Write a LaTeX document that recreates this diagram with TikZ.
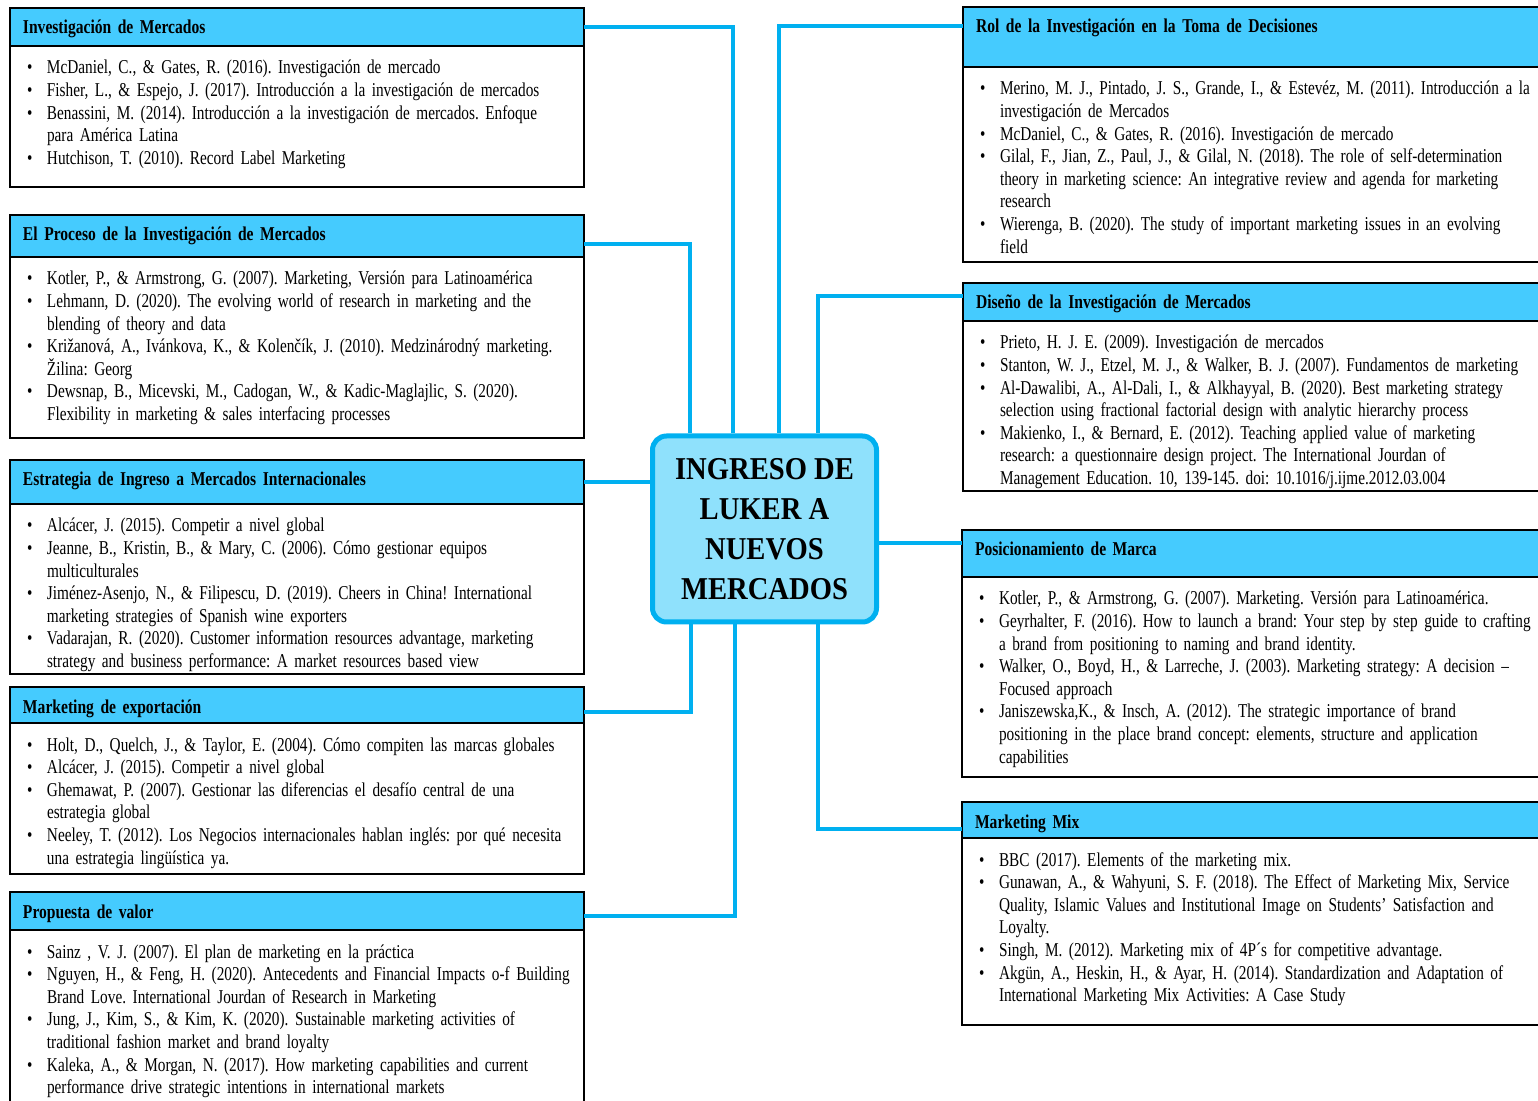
\documentclass[tikz,border=0pt]{standalone}
\usepackage{fontspec}
\setmainfont{Liberation Serif}[FakeStretch=0.78,BoldFeatures={FakeStretch=0.795}]
\newfontfamily\corefont{Liberation Serif}[FakeStretch=0.9]
\usetikzlibrary{positioning,calc}
\frenchspacing

\definecolor{linkblue}{HTML}{00B0F0}
\definecolor{hdrblue}{HTML}{45CBFE}
\definecolor{coreblue}{HTML}{8FE1FC}

\newcommand{\refitem}[1]{\begingroup\let\\\newline
  \noindent\hangindent=10pt\hangafter=1\makebox[10pt][l]{\textbullet}#1\par\endgroup}

\begin{document}
\begin{tikzpicture}[x=0.5pt,y=-0.5pt,
  hdr/.style={draw,line width=1pt,fill=hdrblue,anchor=north west,outer sep=0pt,inner xsep=6.5pt,inner ysep=0pt,
    text width=274pt,text height=13pt,text depth=#1,font=\fontsize{9.8}{11.3}\selectfont\bfseries},
  refs/.style={draw,line width=1pt,outer sep=0pt,inner xsep=8.5pt,inner ysep=0pt,
    text width=270pt,text height=14pt,text depth=#1,font=\fontsize{9.8}{11.3}\selectfont,
    execute at begin node={\rightskip=-12pt plus 1fil\relax}},
  rhdr/.style={hdr=#1,text width=279pt},
  rrefs/.style={refs=#1,text width=275pt},
  link/.style={draw=linkblue,line width=2pt}]
\useasboundingbox (0,0) rectangle (1538,1101);
\clip (0,0) rectangle (1538,1101);

\node[draw=linkblue,line width=2.5pt,fill=coreblue,rounded corners=7pt,minimum width=112pt,minimum height=93pt,
  align=center,font=\corefont\fontsize{15.9}{20}\selectfont\bfseries] (core) at (764.5,529)
  {INGRESO DE\\LUKER A\\NUEVOS\\MERCADOS};

% left column
\node[hdr=6pt] (h1) at (10,8) {Investigación de Mercados};
\node[refs=56.5pt,below=0pt of h1] (b1) {%
  \refitem{McDaniel, C., \& Gates, R. (2016). Investigación de mercado}
  \refitem{Fisher, L., \& Espejo, J. (2017). Introducción a la investigación de mercados}
  \refitem{Benassini, M. (2014). Introducción a la investigación de mercados. Enfoque\\para América Latina}
  \refitem{Hutchison, T. (2010). Record Label Marketing}};

\node[hdr=8pt] (h2) at (10,215) {El Proceso de la Investigación de Mercados};
\node[refs=76.5pt,below=0pt of h2] (b2) {%
  \refitem{Kotler, P., \& Armstrong, G. (2007). Marketing, Versión para Latinoamérica}
  \refitem{Lehmann, D. (2020). The evolving world of research in marketing and the\\blending of theory and data}
  \refitem{Križanová, A., Ivánkova, K., \& Kolenčík, J. (2010). Medzinárodný marketing.\\Žilina: Georg}
  \refitem{Dewsnap, B., Micevski, M., Cadogan, W., \& Kadic-Maglajlic, S. (2020).\\Flexibility in marketing \& sales interfacing processes}};

\node[hdr=9pt] (h3) at (10,460) {Estrategia de Ingreso a Mercados Internacionales};
\node[refs=71pt,below=0pt of h3] (b3) {%
  \refitem{Alcácer, J. (2015). Competir a nivel global}
  \refitem{Jeanne, B., Kristin, B., \& Mary, C. (2006). Cómo gestionar equipos\\multiculturales}
  \refitem{Jiménez-Asenjo, N., \& Filipescu, D. (2019). Cheers in China! International\\marketing strategies of Spanish wine exporters}
  \refitem{Vadarajan, R. (2020). Customer information resources advantage, marketing\\strategy and business performance: A market resources based view}};

\node[hdr=5pt] (h4) at (10,687) {Marketing de exportación};
\node[refs=61.5pt,below=0pt of h4] (b4) {%
  \refitem{Holt, D., Quelch, J., \& Taylor, E. (2004). Cómo compiten las marcas globales}
  \refitem{Alcácer, J. (2015). Competir a nivel global}
  \refitem{Ghemawat, P. (2007). Gestionar las diferencias el desafío central de una\\estrategia global}
  \refitem{Neeley, T. (2012). Los Negocios internacionales hablan inglés: por qué necesita\\una estrategia lingüística ya.}};

\node[hdr=6pt] (h5) at (10,892) {Propuesta de valor};
\node[refs=86pt,below=0pt of h5] (b5) {%
  \refitem{Sainz , V. J. (2007). El plan de marketing en la práctica}
  \refitem{Nguyen, H., \& Feng, H. (2020). Antecedents and Financial Impacts o-f Building\\Brand Love. International Jourdan of Research in Marketing}
  \refitem{Jung, J., Kim, S., \& Kim, K. (2020). Sustainable marketing activities of\\traditional fashion market and brand loyalty}
  \refitem{Kaleka, A., \& Morgan, N. (2017). How marketing capabilities and current\\performance drive strategic intentions in international markets}};

% right column
\node[rhdr=17pt] (h6) at (963,7) {Rol de la Investigación en la Toma de Decisiones};
\node[rrefs=83.5pt,below=0pt of h6] (b6) {%
  \refitem{Merino, M. J., Pintado, J. S., Grande, I., \& Estevéz, M. (2011). Introducción a la\\investigación de Mercados}
  \refitem{McDaniel, C., \& Gates, R. (2016). Investigación de mercado}
  \refitem{Gilal, F., Jian, Z., Paul, J., \& Gilal, N. (2018). The role of self-determination\\theory in marketing science: An integrative review and agenda for marketing\\research}
  \refitem{Wierenga, B. (2020). The study of important marketing issues in an evolving\\field}};

\node[rhdr=6pt] (h7) at (963,283) {Diseño de la Investigación de Mercados};
\node[rrefs=71pt,below=0pt of h7] (b7) {%
  \refitem{Prieto, H. J. E. (2009). Investigación de mercados}
  \refitem{Stanton, W. J., Etzel, M. J., \& Walker, B. J. (2007). Fundamentos de marketing}
  \refitem{Al-Dawalibi, A., Al-Dali, I., \& Alkhayyal, B. (2020). Best marketing strategy\\selection using fractional factorial design with analytic hierarchy process}
  \refitem{Makienko, I., \& Bernard, E. (2012). Teaching applied value of marketing\\research: a questionnaire design project. The International Jourdan of\\Management Education. 10, 139-145. doi: 10.1016/j.ijme.2012.03.004}};

\node[rhdr=10.5pt] (h8) at (962,530) {Posicionamiento de Marca};
\node[rrefs=86pt,below=0pt of h8] (b8) {%
  \refitem{Kotler, P., \& Armstrong, G. (2007). Marketing. Versión para Latinoamérica.}
  \refitem{Geyrhalter, F. (2016). How to launch a brand: Your step by step guide to crafting\\a brand from positioning to naming and brand identity.}
  \refitem{Walker, O., Boyd, H., \& Larreche, J. (2003). Marketing strategy: A decision –\\Focused approach}
  \refitem{Janiszewska,K., \& Insch, A. (2012). The strategic importance of brand\\positioning in the place brand concept: elements, structure and application\\capabilities}};

\node[rhdr=5pt] (h9) at (962,802) {Marketing Mix};
\node[rrefs=79.5pt,below=0pt of h9] (b9) {%
  \refitem{BBC (2017). Elements of the marketing mix.}
  \refitem{Gunawan, A., \& Wahyuni, S. F. (2018). The Effect of Marketing Mix, Service\\Quality, Islamic Values and Institutional Image on Students’ Satisfaction and\\Loyalty.}
  \refitem{Singh, M. (2012). Marketing mix of 4P´s for competitive advantage.}
  \refitem{Akgün, A., Heskin, H., \& Ayar, H. (2014). Standardization and Adaptation of\\International Marketing Mix Activities: A Case Study}};

% connectors
\draw[link] (h1.east) -| ($(core.north)+(-31.5,0)$);
\draw[link] ($(h2.east)+(0,8)$) -| ($(core.north)+(-74.5,0)$);
\draw[link] (h3.east) -- (h3.east -| core.west);
\draw[link] ($(h4.east)+(0,7)$) -| ($(core.south)+(-73.5,0)$);
\draw[link] ($(h5.east)+(0,5)$) -| ($(core.south)+(-29.5,0)$);
\draw[link] ($(h6.west)+(0,-11)$) -| ($(core.north)+(14.5,0)$);
\draw[link] ($(h7.west)+(0,-6)$) -| ($(core.north)+(53.5,0)$);
\coordinate (p8) at ($(h8.west)+(0,-10)$);
\draw[link] (p8) -- (p8 -| core.east);
\draw[link] ($(h9.west)+(0,9)$) -| ($(core.south)+(53.5,0)$);
\end{tikzpicture}
\end{document}
